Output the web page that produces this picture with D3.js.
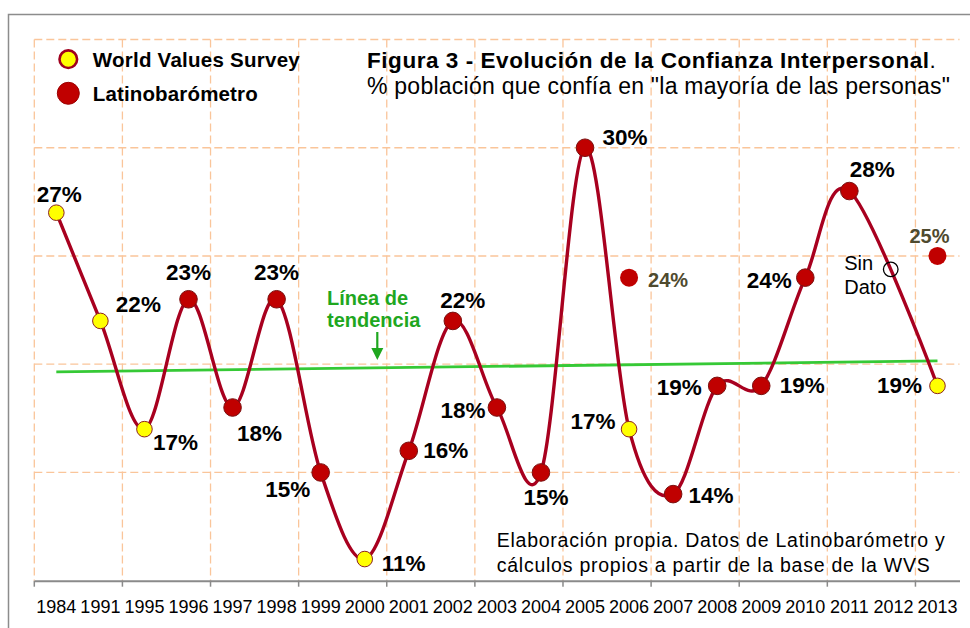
<!DOCTYPE html>
<html>
<head>
<meta charset="utf-8">
<script src="https://cdn.jsdelivr.net/npm/d3@7"></script>
<style>
  body { margin: 0; background: #fff; }
  svg { display: block; font-family: "Liberation Sans", Arial, sans-serif; }
</style>
</head>
<body>
<div id="chart"></div>
<script>
// Categories on the x axis
const years = ["1984", "1991", "1995", "1996", "1997", "1998", "1999", "2000", "2001", "2002",
  "2003", "2004", "2005", "2006", "2007", "2008", "2009", "2010", "2011", "2012", "2013"];

// Main series (% que confía), null = sin dato
const trustValues = [27, 22, 17, 23, 18, 23, 15, 11, 16, 22, 18, 15, 30, 17, 14, 19, 19, 24, 28, null, 19];
// Source of each point: WVS = World Values Survey, LB = Latinobarómetro
const trustSource = ["WVS", "WVS", "WVS", "LB", "LB", "LB", "LB", "WVS", "LB", "LB", "LB", "LB", "LB",
  "WVS", "LB", "LB", "LB", "LB", "LB", null, "WVS"];

// Latinobarómetro points outside the line
const extraYears = ["2006", "2013"];
const extraValues = [24, 25];

// Trend line end points
const trendYears = ["1984", "2013"];
const trendValues = [19.65, 20.15];

const sinDatoYear = "2012";
const yTicks = [10, 15, 20, 25, 30, 35];

// label placement (dx, dy from the marker centre)
const labelOffset = {
  "1984": [3, -11], "1991": [38, -9], "1995": [31, 21], "1996": [0, -19], "1997": [27, 33],
  "1998": [0, -19], "1999": [-33, 25], "2000": [39, 12], "2001": [37, 7], "2002": [10, -13],
  "2003": [-34, 10], "2004": [5, 33], "2005": [40, -3], "2006": [-36, 0], "2007": [38, 9],
  "2008": [-38, 9], "2009": [41, 7], "2010": [-36, 10], "2011": [23, -14], "2013": [-38, 7]
};
const extraLabelOffset = { "2006": [39, 9], "2013": [-8, -13] };

const width = 970;
const height = 628;
const plotLeft = 34.3, plotRight = 959.5, plotTop = 39.5, plotBottom = 580.7;

const gridColor = "#fac59a";
const lineColor = "#a8001f";
const markerRed = "#c00000";
const markerYellow = "#ffff00";
const olive = "#4f4a2e";

const svg = d3.select("#chart").append("svg")
  .attr("width", width)
  .attr("height", height);

// outer frame
svg.append("rect")
  .attr("x", 8.5).attr("y", 14.5)
  .attr("width", width + 20).attr("height", height + 20)
  .attr("fill", "none")
  .attr("stroke", "#8c8c8c")
  .attr("stroke-width", 1.5);

const x = d3.scaleBand().domain(years).range([plotLeft, plotRight]);
const cx = (yr) => x(yr) + x.bandwidth() / 2;
const y = d3.scaleLinear().domain([10, 35]).range([plotBottom, plotTop]);

// grid
const grid = svg.append("g")
  .attr("stroke", gridColor)
  .attr("stroke-width", 1.3)
  .attr("stroke-dasharray", "8,4");

grid.selectAll("line.h")
  .data(yTicks.filter((d) => d > 10))
  .join("line")
  .attr("class", "h")
  .attr("x1", plotLeft).attr("x2", plotRight)
  .attr("y1", (d) => y(d)).attr("y2", (d) => y(d));

const tickYears = years.filter((d, i) => i % 2 === 0);
grid.selectAll("line.v")
  .data(tickYears)
  .join("line")
  .attr("class", "v")
  .attr("x1", (d) => x(d)).attr("x2", (d) => x(d))
  .attr("y1", y(35)).attr("y2", y(10));

// x axis
const xAxis = svg.append("g")
  .attr("transform", `translate(0,${plotBottom})`)
  .call(d3.axisBottom(x).tickSize(0).tickSizeOuter(0));
xAxis.select(".domain").attr("stroke", "#8a8a8a").attr("stroke-width", 2);
xAxis.selectAll("text")
  .attr("y", 32.6).attr("dy", 0)
  .attr("fill", "#000")
  .style("font-size", "18px");

xAxis.selectAll("line.tk")
  .data(tickYears)
  .join("line")
  .attr("class", "tk")
  .attr("x1", (d) => x(d)).attr("x2", (d) => x(d))
  .attr("y1", 0).attr("y2", 6)
  .attr("stroke", "#8a8a8a")
  .attr("stroke-width", 1.5);

// trend line
const trend = trendYears.map((yr, i) => ({ year: yr, value: trendValues[i] }));
svg.append("line")
  .attr("x1", cx(trend[0].year)).attr("y1", y(trend[0].value))
  .attr("x2", cx(trend[1].year)).attr("y2", y(trend[1].value))
  .attr("stroke", "#36c936")
  .attr("stroke-width", 2.8);

// main smoothed line
const points = years
  .map((yr, i) => ({ year: yr, value: trustValues[i], source: trustSource[i] }))
  .filter((d) => d.value != null);

const line = d3.line()
  .x((d) => cx(d.year))
  .y((d) => y(d.value))
  .curve(d3.curveCardinal.tension(0));

const path = svg.append("path")
  .datum(points)
  .attr("d", line)
  .attr("fill", "none")
  .attr("stroke", lineColor)
  .attr("stroke-width", 3.4);

// "Sin Dato" marker sits on the curve at 2012
const pathNode = path.node();
const total = pathNode.getTotalLength();
const targetX = cx(sinDatoYear) - 2.5;
let sd = pathNode.getPointAtLength(0);
for (let l = 0; l <= total; l += 0.5) {
  const p = pathNode.getPointAtLength(l);
  if (p.x > targetX - 60 && p.x <= targetX) sd = p;
}
svg.append("circle")
  .attr("cx", sd.x).attr("cy", sd.y).attr("r", 7.3)
  .attr("fill", "none")
  .attr("stroke", "#000")
  .attr("stroke-width", 1.3);
svg.append("text")
  .attr("x", sd.x - 46.5).attr("y", sd.y + 0.8)
  .style("font-size", "20px")
  .text("Sin");
svg.append("text")
  .attr("x", sd.x - 46.5).attr("y", sd.y + 24.4)
  .style("font-size", "20px")
  .text("Dato");

// markers on the line
svg.append("g")
  .selectAll("circle")
  .data(points)
  .join("circle")
  .attr("cx", (d) => cx(d.year))
  .attr("cy", (d) => y(d.value))
  .attr("r", (d) => (d.source === "WVS" ? 7.8 : 8.8))
  .attr("fill", (d) => (d.source === "WVS" ? markerYellow : markerRed))
  .attr("stroke", (d) => (d.source === "WVS" ? "#8b2323" : "#7a1010"))
  .attr("stroke-width", 1);

// extra Latinobarómetro markers
const extras = extraYears.map((yr, i) => ({ year: yr, value: extraValues[i] }));
svg.append("g")
  .selectAll("circle")
  .data(extras)
  .join("circle")
  .attr("cx", (d) => cx(d.year))
  .attr("cy", (d) => y(d.value))
  .attr("r", 9)
  .attr("fill", markerRed);

// data labels
svg.append("g")
  .selectAll("text")
  .data(points)
  .join("text")
  .attr("x", (d) => cx(d.year) + labelOffset[d.year][0])
  .attr("y", (d) => y(d.value) + labelOffset[d.year][1])
  .attr("text-anchor", "middle")
  .style("font-size", "22.5px")
  .style("font-weight", "bold")
  .text((d) => d.value + "%");

svg.append("g")
  .selectAll("text")
  .data(extras)
  .join("text")
  .attr("x", (d) => cx(d.year) + extraLabelOffset[d.year][0])
  .attr("y", (d) => y(d.value) + extraLabelOffset[d.year][1])
  .attr("text-anchor", "middle")
  .attr("fill", olive)
  .style("font-size", "20px")
  .style("font-weight", "bold")
  .text((d) => d.value + "%");

// trend annotation
const green = "#1fa71f";
svg.append("text")
  .attr("x", 327).attr("y", 305)
  .attr("fill", green)
  .style("font-size", "20px").style("font-weight", "bold")
  .text("Línea de");
svg.append("text")
  .attr("x", 327).attr("y", 326.7)
  .attr("fill", green)
  .style("font-size", "20px").style("font-weight", "bold")
  .text("tendencia");
svg.append("line")
  .attr("x1", 377.3).attr("x2", 377.3)
  .attr("y1", 332).attr("y2", 350)
  .attr("stroke", green).attr("stroke-width", 2.2);
svg.append("path")
  .attr("d", "M371.3,348 L383.3,348 L377.3,360 Z")
  .attr("fill", green);

// legend
const legend = svg.append("g");
legend.append("circle")
  .attr("cx", 68.3).attr("cy", 59.2).attr("r", 8.8)
  .attr("fill", markerYellow)
  .attr("stroke", "#a0001e")
  .attr("stroke-width", 2.6);
legend.append("circle")
  .attr("cx", 68.3).attr("cy", 93.3).attr("r", 11)
  .attr("fill", markerRed)
  .attr("stroke", "#9b0000")
  .attr("stroke-width", 1);
legend.append("text")
  .attr("x", 92.7).attr("y", 67)
  .attr("textLength", 207)
  .style("font-size", "20.5px").style("font-weight", "bold")
  .text("World Values Survey");
legend.append("text")
  .attr("x", 92.7).attr("y", 101)
  .attr("textLength", 165)
  .style("font-size", "20.5px").style("font-weight", "bold")
  .text("Latinobarómetro");

// title
const title = svg.append("text")
  .attr("x", 367).attr("y", 68)
  .style("font-size", "22.5px");
title.append("tspan")
  .attr("textLength", 562)
  .style("font-weight", "bold")
  .text("Figura 3 - Evolución de la Confianza Interpersonal");
title.append("tspan")
  .text(".");
svg.append("text")
  .attr("x", 367).attr("y", 93.5)
  .attr("textLength", 583)
  .style("font-size", "23px")
  .text("% población que confía en \"la mayoría de las personas\"");

// source note
svg.append("text")
  .attr("x", 496.7).attr("y", 546.7)
  .attr("textLength", 448)
  .style("font-size", "19.5px")
  .text("Elaboración propia. Datos de Latinobarómetro y");
svg.append("text")
  .attr("x", 496.7).attr("y", 571.7)
  .attr("textLength", 433)
  .style("font-size", "19.5px")
  .text("cálculos propios a partir de la base de la WVS");
</script>
</body>
</html>
